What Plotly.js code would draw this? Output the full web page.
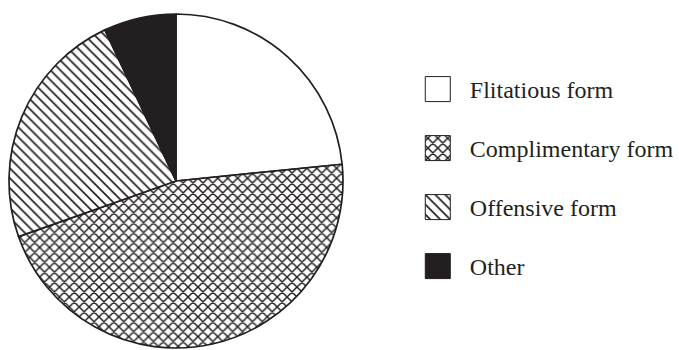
<!DOCTYPE html>
<html>
<head>
<meta charset="utf-8">
<script src="https://cdn.plot.ly/plotly-3.0.1.min.js"></script>
<style>html,body{margin:0;padding:0;background:#fff;}#chart{width:679px;height:350px;}</style>
</head>
<body>
<div id="chart"></div>
<script>
// Data
const categories = ["Flitatious form", "Complimentary form", "Offensive form", "Other"];
const shares = [23.4, 46.2, 23.4, 7.0];
const patternShapes = ["", "x", "\\", ""];
const patternSolidity = [0, 0.38, 0.24, 0];
const fillColors = ["#ffffff", "#ffffff", "#ffffff", "#231f20"];

const ink = "#231f20";

const trace = {
  type: "pie",
  labels: categories,
  values: shares,
  sort: false,
  direction: "clockwise",
  rotation: 0,
  textinfo: "none",
  hoverinfo: "label+percent",
  domain: {x: [9/679, 344/679], y: [1 - 348.5/350, 1 - 13.5/350]},
  marker: {
    colors: fillColors,
    line: {color: ink, width: 1.7},
    pattern: {
      shape: patternShapes,
      fgcolor: ink,
      bgcolor: "#ffffff",
      size: 7,
      solidity: patternSolidity,
      fillmode: "replace"
    }
  }
};

const layout = {
  width: 679,
  height: 350,
  margin: {l: 0, r: 0, t: 0, b: 0},
  paper_bgcolor: "#ffffff",
  showlegend: true,
  legend: {
    x: 0.5994, y: 0.8086, xanchor: "left", yanchor: "top",
    itemwidth: 54,
    valign: "middle",
    font: {family: "Liberation Serif, Times New Roman, serif", size: 24, color: ink},
    bgcolor: "rgba(0,0,0,0)",
    itemclick: false
  }
};

const rowGap = 59;

Plotly.newPlot("chart", [trace], layout, {displayModeBar: false, staticPlot: true}).then(gd => {
  // enlarge legend swatches to match the reference's bigger squares
  gd.querySelectorAll(".legend .legendpoints path").forEach(p => {
    p.setAttribute("d", "M12.5,12.5H-12.5V-12.5H12.5Z");
    p.style.strokeWidth = "1px";
  });
  // spread legend rows to the reference spacing
  const rows = gd.querySelectorAll(".legend .traces");
  let x0 = 0, y0 = 0;
  rows.forEach((g, i) => {
    const m = /translate\(\s*([-\d.]+)[ ,]+([-\d.]+)\s*\)/.exec(g.getAttribute("transform") || "");
    if (i === 0 && m) { x0 = +m[1]; y0 = +m[2]; }
    g.setAttribute("transform", "translate(" + x0 + "," + (y0 + i * rowGap) + ")");
  });
  const box = gd.querySelector(".legend .scrollbox");
  if (box) box.removeAttribute("clip-path");
  gd.querySelectorAll(".legend .scrollbar").forEach(s => s.style.display = "none");
});
</script>
</body>
</html>
